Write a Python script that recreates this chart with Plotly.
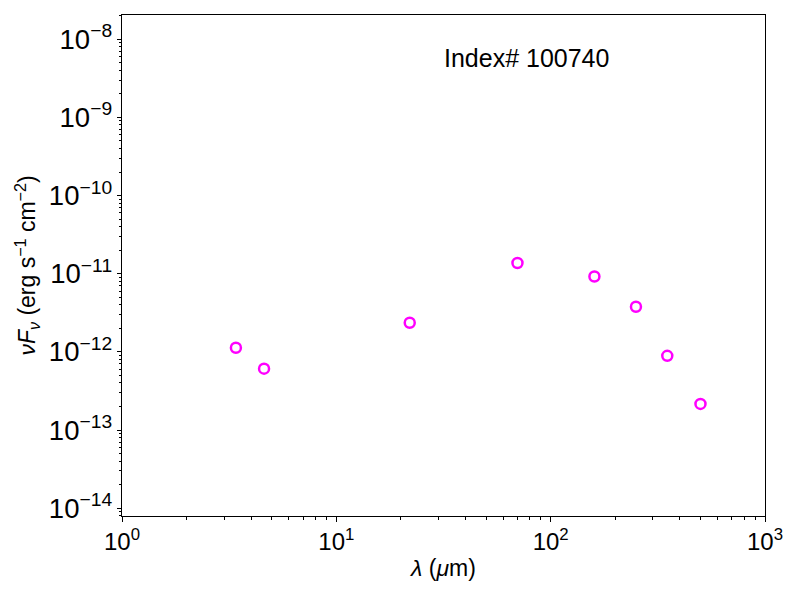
import plotly.graph_objects as go

# SED photometry points (wavelength in micron, nuFnu in erg/s/cm2)
wavelength = [3.4, 4.6, 22, 70, 160, 250, 350, 500]
nufnu = [1.13e-12, 6.1e-13, 2.36e-12, 1.37e-11, 9.2e-12, 3.78e-12, 8.9e-13, 2.16e-13]
source_label = "Index# 100740"
x_tick_vals = [1, 10, 100, 1000]
x_tick_text = ["10<sup>0</sup>", "10<sup>1</sup>", "10<sup>2</sup>", "10<sup>3</sup>"]
x_minor_vals = [m * d for d in (1, 10, 100) for m in range(2, 10)]

fig = go.Figure()

fig.add_trace(go.Scatter(
    x=wavelength, y=nufnu,
    mode="markers",
    marker=dict(symbol="circle-open", size=10, color="#ff00ff",
                line=dict(width=2.5, color="#ff00ff")),
    showlegend=False,
    hoverinfo="x+y",
))

fig.add_annotation(
    x=0.629, y=0.915, xref="paper", yref="paper",
    text=source_label, showarrow=False,
    font=dict(size=25, color="black"),
    xanchor="center", yanchor="middle",
)

axis_style = dict(
    type="log",
    showgrid=False,
    zeroline=False,
    showline=True,
    linecolor="black",
    linewidth=1,
    mirror=True,
    ticks="outside",
    ticklen=4.5,
    tickwidth=1,
    tickcolor="black",
    exponentformat="power",
    tickfont=dict(size=22, color="black"),
)

# the page body adds an 8px offset, so the figure is a bit smaller than the window
fig.update_layout(
    width=784, height=584,
    margin=dict(l=114, r=27, t=7, b=76),
    plot_bgcolor="white",
    paper_bgcolor="white",
    font=dict(family="Liberation Sans, Arial, sans-serif", color="black"),
    xaxis=dict(axis_style, range=[0, 3],
               tickvals=x_tick_vals, ticktext=x_tick_text,
               tickfont=dict(size=24, color="black"),
               minor=dict(ticks="outside", ticklen=2.5, tickcolor="black",
                          tickvals=x_minor_vals, showgrid=False),
               title=dict(text="<i>λ</i> (<i>μ</i>m)", font=dict(size=23), standoff=5)),
    yaxis=dict(axis_style, range=[-14.10, -7.69], dtick=1,
               minor=dict(ticks="outside", ticklen=2.5, tickcolor="black", showgrid=False),
               title=dict(text="<i>νF<sub>ν</sub></i> (erg s<sup>−1</sup> cm<sup>−2</sup>)",
                          font=dict(size=23), standoff=6)),
)

fig.write_html("out.html")
